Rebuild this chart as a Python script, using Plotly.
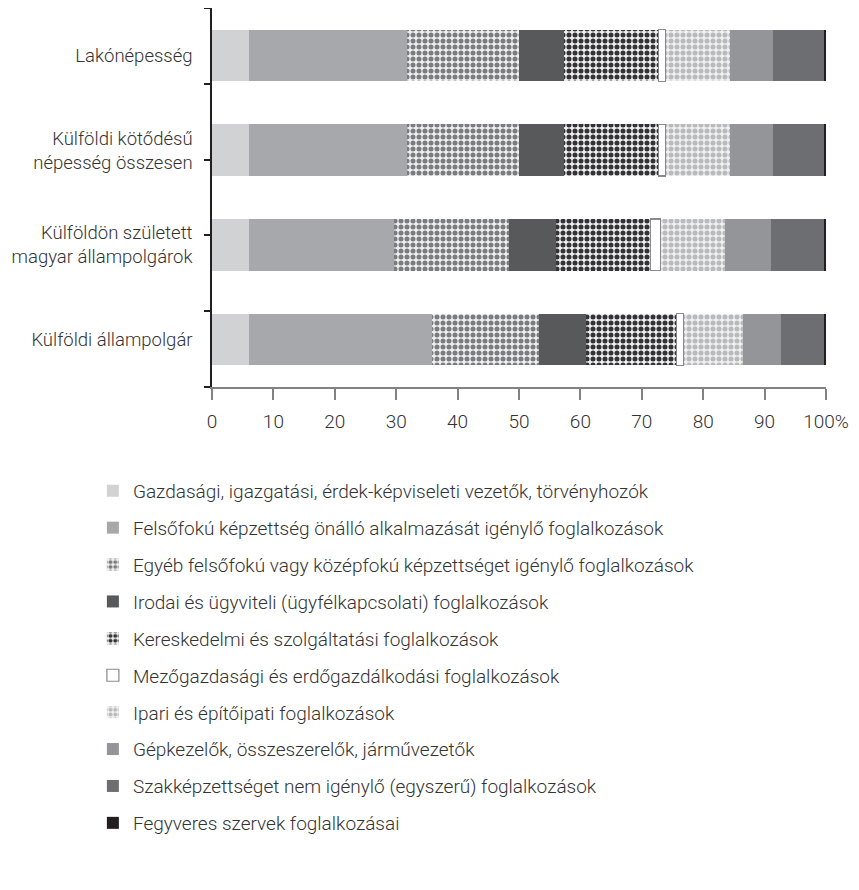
import plotly.graph_objects as go

categories = [
    "Lakónépesség",
    "Külföldi kötődésű<br>népesség összesen",
    "Külföldön született<br>magyar állampolgárok",
    "Külföldi állampolgár",
]

series_names = [
    "Gazdasági, igazgatási, érdek-képviseleti vezetők, törvényhozók",
    "Felsőfokú képzettség önálló alkalmazását igénylő foglalkozások",
    "Egyéb felsőfokú vagy középfokú képzettséget igénylő foglalkozások",
    "Irodai és ügyviteli (ügyfélkapcsolati) foglalkozások",
    "Kereskedelmi és szolgáltatási foglalkozások",
    "Mezőgazdasági és erdőgazdálkodási foglalkozások",
    "Ipari és építőipati foglalkozások",
    "Gépkezelők, összeszerelők, járművezetők",
    "Szakképzettséget nem igénylő (egyszerű) foglalkozások",
    "Fegyveres szervek foglalkozásai",
]

# values per category (percent), order = series_names
lakonepesseg = [6.0, 25.7, 18.3, 7.4, 15.3, 1.2, 10.5, 6.9, 8.4, 0.3]
kulfoldi_kotodesu = [6.0, 25.7, 18.3, 7.4, 15.3, 1.2, 10.5, 6.9, 8.4, 0.3]
kulfoldon_szuletett = [6.0, 23.7, 18.6, 7.8, 15.3, 1.7, 10.5, 7.4, 8.7, 0.3]
kulfoldi_allampolgar = [6.0, 29.8, 17.5, 7.6, 14.8, 1.1, 9.6, 6.3, 7.0, 0.3]

x_tick_vals = [0, 10, 20, 30, 40, 50, 60, 70, 80, 90, 100]
x_tick_text = ["0", "10", "20", "30", "40", "50", "60", "70", "80", "90", "100%"]

data_rows = [lakonepesseg, kulfoldi_kotodesu, kulfoldon_szuletett, kulfoldi_allampolgar]

PAT = dict(shape=".", size=6, solidity=0.55, fillmode="replace")
styles = [
    dict(color="#d1d2d4"),
    dict(color="#a7a8ab"),
    dict(color="#f1f1f2", pattern=dict(PAT, fgcolor="#7b7c7f", bgcolor="#f1f1f2")),
    dict(color="#58595b"),
    dict(color="#f1f1f2", pattern=dict(PAT, fgcolor="#333335", bgcolor="#f1f1f2")),
    dict(color="#ffffff", line=dict(color="#8a8a8c", width=1.2)),
    dict(color="#f1f1f2", pattern=dict(PAT, fgcolor="#b9babc", bgcolor="#f1f1f2")),
    dict(color="#939598"),
    dict(color="#6d6e71"),
    dict(color="#231f20"),
]

ypos = list(range(len(categories)))

fig = go.Figure()
for i, name in enumerate(series_names):
    vals = [row[i] for row in data_rows]
    st = styles[i]
    marker = dict(color=st["color"], line=st.get("line", dict(width=0)))
    if "pattern" in st:
        marker["pattern"] = st["pattern"]
    fig.add_trace(go.Bar(
        x=vals, y=ypos, orientation="h", name=name, marker=marker,
        legendgroup=name, hoverinfo="x+name",
    ))

FONT = "Roboto"
TXT = "#333333"
n = len(categories)
band_ticks = [-0.5 + k * n / 5 for k in range(6)]

fig.update_layout(
    width=859, height=890,
    barmode="stack",
    bargap=0.455,
    plot_bgcolor="white",
    paper_bgcolor="white",
    font=dict(family=FONT, size=18, color=TXT, weight=300),
    margin=dict(l=204, r=41, t=0, b=511),
    showlegend=True,
    legend=dict(
        x=-0.194, xanchor="left", y=-0.224, yanchor="top",
        orientation="v", traceorder="grouped",
        tracegroupgap=9.2,
        font=dict(family=FONT, size=19, color=TXT, weight=300),
        bgcolor="rgba(0,0,0,0)",
    ),
    xaxis=dict(
        range=[0, 100], tickvals=x_tick_vals, ticktext=x_tick_text,
        showgrid=False, zeroline=False,
        showline=True, linecolor="#808285", linewidth=1.5,
        ticks="outside", ticklen=11, tickcolor="#808285", tickwidth=1.5,
        ticklabelstandoff=5,
        tickfont=dict(family=FONT, size=19, color=TXT, weight=300),
        fixedrange=True,
    ),
    yaxis=dict(
        range=[n - 0.5, -0.5], tickvals=ypos, ticktext=categories,
        showgrid=False, zeroline=False,
        showline=True, linecolor="#231f20", linewidth=1.5,
        ticks="", ticklabelstandoff=14,
        minor=dict(tickmode="array", tickvals=band_ticks, ticks="outside",
                   ticklen=6, tickcolor="#231f20", tickwidth=1.5, showgrid=False),
        tickfont=dict(family=FONT, size=18.5, color=TXT, weight=300),
        fixedrange=True,
    ),
)

fig.write_html("out.html")
